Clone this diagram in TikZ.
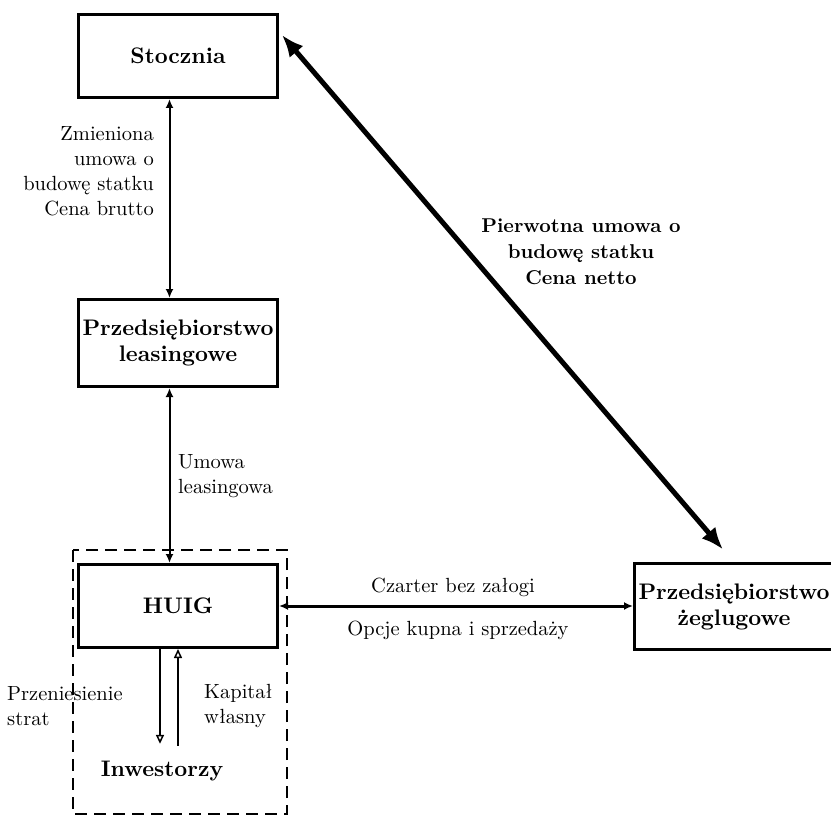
\documentclass[tikz,border=0pt]{standalone}
\usepackage{fontspec}
\setmainfont{lmroman10-regular.otf}[BoldFont=lmroman10-bold.otf]
\usetikzlibrary{arrows.meta}
\begin{document}
\begin{tikzpicture}[x=1pt,y=-1pt]
		\tikzstyle{box}=[draw,line width=3pt,minimum width=199pt,minimum height=83pt,inner sep=2pt,align=center,font=\fontsize{22.5}{26}\selectfont\bfseries]
		\tikzstyle{txt}=[inner sep=0pt,font=\fontsize{20.5}{25}\selectfont]
		\tikzstyle{link}=[line width=2pt,{Latex[length=9pt,width=8pt]}-{Latex[length=9pt,width=8pt]}]
		\tikzstyle{flow}=[line width=2.5pt,-{Triangle[open,length=9pt,width=8pt,line width=1.5pt]}]
		\useasboundingbox (0,0) rectangle (831,816);
		\node[box] (stocznia) at (178,56) {Stocznia};
		\node[box,minimum height=87pt] (leasing) at (178,343) {Przedsiębiorstwo\\leasingowe};
		\node[box] (huig) at (178,606) {HUIG};
		\node[box,minimum height=86pt] (zegluga) at (734,606.5) {Przedsiębiorstwo\\żeglugowe};
		\node[txt,font=\fontsize{22.5}{26}\selectfont\bfseries] (inwestorzy) at (162,771) {Inwestorzy};
		\draw[line width=2.5pt,dash pattern=on 12pt off 7pt] (73,550) rectangle (287,814);
		\coordinate (diag_a) at ([shift={(3,22)}]stocznia.north east);
		\coordinate (diag_b) at ([shift={(-11,-12.5)}]zegluga.north);
		\draw[link] ([xshift=-8.5pt]stocznia.south) -- ([xshift=-8.5pt]leasing.north);
		\draw[link] ([xshift=-8.5pt]leasing.south) -- ([xshift=-8.5pt]huig.north);
		\draw[link,line width=3pt] (huig.east) -- (huig.east -| zegluga.west);
		\draw[line width=5pt,{Latex[length=22pt,width=18pt]}-{Latex[length=22pt,width=18pt]}] (diag_a) -- (diag_b);
		\draw[flow] ([xshift=-18pt]huig.south) -- ([xshift=-2pt,yshift=17pt]inwestorzy.north);
		\draw[flow] ([xshift=16pt,yshift=15pt]inwestorzy.north) -- (huig.south);
		\node[txt,anchor=east,align=right] (brutto) at (154,171) {Zmieniona\\umowa o\\budowę statku\\Cena brutto};
		\node[txt,anchor=west,align=left] (leasing_umowa) at (178,476) {Umowa\\leasingowa};
		\node[txt,align=center,font=\fontsize{20}{26}\selectfont\bfseries] (netto) at (581,252) {Pierwotna umowa o\\budowę statku\\Cena netto};
		\node[txt] (czarter) at (453,587) {Czarter bez załogi};
		\node[txt] (opcje) at (458,630) {Opcje kupna i sprzedaży};
		\node[txt,anchor=west,align=left] (straty) at (7,706) {Przeniesienie\\strat};
		\node[txt,anchor=west,align=left] (kapital) at (204,706) {Kapitał\\własny};
	\end{tikzpicture}
\end{document}
